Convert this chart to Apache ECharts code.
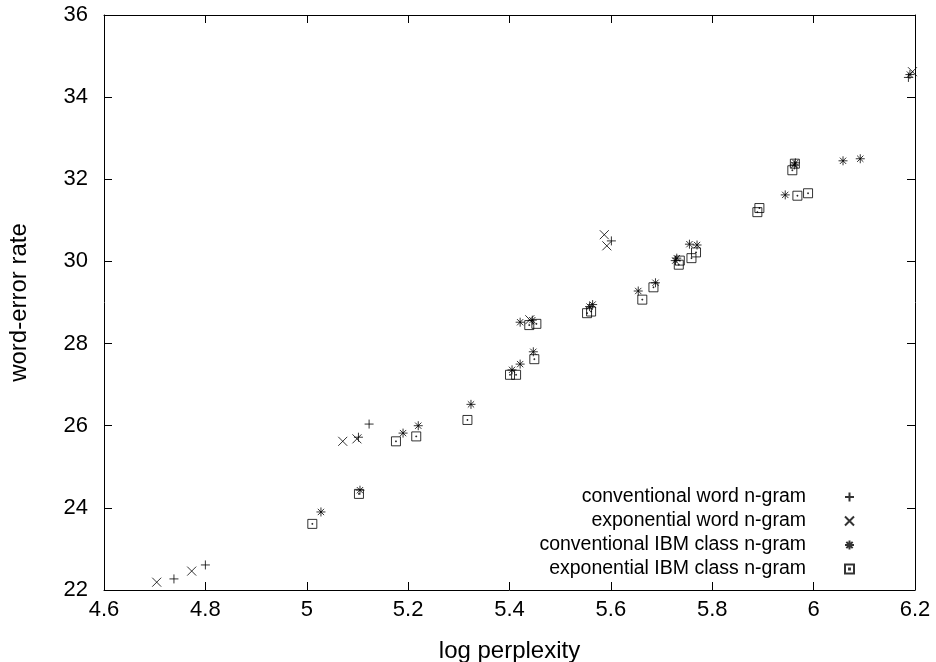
<!DOCTYPE html>
<html>
<head>
<meta charset="utf-8">
<script src="https://cdn.jsdelivr.net/npm/echarts@6/dist/echarts.min.js"></script>
<style>html,body{margin:0;padding:0;background:#fff}#c{width:936px;height:662px}</style>
</head>
<body>
<div id="c"></div>
<script>
const seriesNames = ['conventional word n-gram','exponential word n-gram','conventional IBM class n-gram','exponential IBM class n-gram'];
const convWordX = [4.738, 4.800, 5.102, 5.123, 5.601, 6.187];
const convWordY = [22.27, 22.61, 25.72, 26.04, 30.50, 34.48];
const expWordX = [4.704, 4.773, 5.071, 5.099, 5.440, 5.587, 5.592, 6.195];
const expWordY = [22.19, 22.46, 25.62, 25.68, 28.58, 30.65, 30.38, 34.62];
const convIbmX = [5.028, 5.105, 5.190, 5.220, 5.324, 5.405, 5.421, 5.447, 5.421, 5.445, 5.558, 5.564, 5.654, 5.688, 5.727, 5.730, 5.755, 5.770, 5.944, 5.962, 5.964, 6.058, 6.092, 6.190];
const convIbmY = [23.90, 24.43, 25.82, 26.00, 26.52, 27.36, 27.50, 27.80, 28.52, 28.57, 28.90, 28.95, 29.28, 29.48, 30.02, 30.08, 30.42, 30.40, 31.62, 32.35, 32.40, 32.45, 32.50, 34.55];
const expIbmX = [5.011, 5.103, 5.176, 5.216, 5.317, 5.401, 5.413, 5.449, 5.439, 5.453, 5.553, 5.561, 5.662, 5.684, 5.734, 5.736, 5.759, 5.768, 5.889, 5.893, 5.958, 5.963, 5.968, 5.989];
const expIbmY = [23.61, 24.34, 25.62, 25.74, 26.14, 27.24, 27.24, 27.62, 28.45, 28.48, 28.74, 28.78, 29.07, 29.37, 29.92, 30.02, 30.08, 30.22, 31.20, 31.30, 32.22, 32.38, 31.60, 31.66];
const xTicks = {min: 4.6, max: 6.2, interval: 0.2};
const yTicks = {min: 22, max: 36, interval: 2};

const symPlus = 'path://M5 0L5 10M0 5L10 5';
const symCross = 'path://M0 0L10 10M10 0L0 10';
const symStar = 'path://M5 0L5 10M0 5L10 5M1.5 1.5L8.5 8.5M8.5 1.5L1.5 8.5';
const symBox = 'path://M0 0L10 0L10 10L0 10ZM4.5 4.5L5.5 4.5L5.5 5.5L4.5 5.5Z';

function zip(xs, ys){ return xs.map((x,i)=>[x, ys[i]]); }
const FONT = 'Liberation Sans';
const itemStyle = {color:'rgba(0,0,0,0)', borderColor:'#000', borderWidth:1};
function mk(name, xs, ys, sym, size){
  return {name, type:'scatter', data: zip(xs,ys), symbol: sym, symbolSize: size,
    itemStyle, emphasis:{disabled:true}, xAxisIndex:0, yAxisIndex:0};
}
const chart = echarts.init(document.getElementById('c'), null, {renderer:'canvas'});
const axisCommon = {
  axisLine:{show:true, lineStyle:{color:'#000', width:1}},
  axisTick:{show:true, inside:true, length:8, lineStyle:{color:'#000'}},
  splitLine:{show:false}
};
chart.setOption({
  animation:false,
  backgroundColor:'#fff',
  textStyle:{fontFamily:FONT},
  grid:{left:104, right:21, top:15, bottom:72, show:false, containLabel:false, outerBoundsMode:'none'},
  legend:{
    data: seriesNames, orient:'vertical', align:'right', right:81, top:487, padding:0,
    itemWidth:9, itemHeight:9, itemGap:4,
    textStyle:{fontFamily:FONT, fontSize:19.5, color:'#000', lineHeight:20, padding:[0,34,0,0]},
    selectedMode:false
  },
  xAxis:[
    Object.assign({type:'value', position:'bottom', min:xTicks.min, max:xTicks.max, interval:xTicks.interval,
      name:'log perplexity', nameLocation:'middle', nameGap:49,
      nameTextStyle:{fontFamily:FONT, fontSize:24, color:'#000'},
      axisLabel:{fontFamily:FONT, fontSize:22, color:'#000', margin:9, formatter:v=>String(+v.toFixed(1))}}, axisCommon),
    Object.assign({type:'value', position:'top', min:xTicks.min, max:xTicks.max, interval:xTicks.interval,
      axisLabel:{show:false}}, axisCommon)
  ],
  yAxis:[
    Object.assign({type:'value', position:'left', min:yTicks.min, max:yTicks.max, interval:yTicks.interval,
      name:'word-error rate', nameLocation:'middle', nameGap:73,
      nameTextStyle:{fontFamily:FONT, fontSize:24, color:'#000'},
      axisLabel:{fontFamily:FONT, fontSize:22, color:'#000', margin:16}}, axisCommon),
    Object.assign({type:'value', position:'right', min:yTicks.min, max:yTicks.max, interval:yTicks.interval,
      axisLabel:{show:false}}, axisCommon)
  ],
  series:[
    mk(seriesNames[0], convWordX, convWordY, symPlus, 9),
    mk(seriesNames[1], expWordX, expWordY, symCross, 9),
    mk(seriesNames[2], convIbmX, convIbmY, symStar, 9),
    mk(seriesNames[3], expIbmX, expIbmY, symBox, 9)
  ]
});
</script>
</body>
</html>
